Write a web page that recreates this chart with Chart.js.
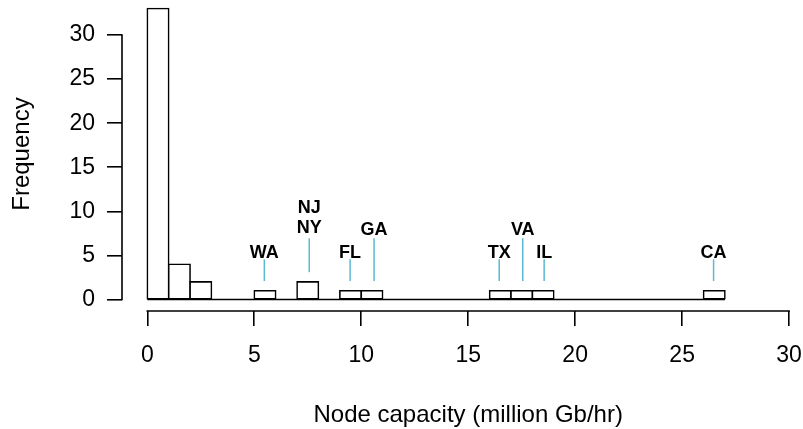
<!DOCTYPE html>
<html>
<head>
<meta charset="utf-8">
<title>Node capacity histogram</title>
<script src="https://cdn.jsdelivr.net/npm/chart.js@4.4.0/dist/chart.umd.min.js"></script>
<style>
  html, body { margin: 0; padding: 0; background: #fff; }
  canvas { display: block; }
</style>
</head>
<body>
<canvas id="myChart" width="803" height="429"></canvas>
<script>
// Histogram bins, one million Gb/hr wide
let binWidth = 1;
let binStarts = [0, 1, 2, 3, 4, 5, 6, 7, 8, 9, 10, 11, 12, 13, 14, 15, 16, 17, 18, 19, 20, 21, 22, 23, 24, 25, 26];
let binCounts = [33, 4, 2, 0, 0, 1, 0, 2, 0, 1, 1, 0, 0, 0, 0, 0, 1, 1, 1, 0, 0, 0, 0, 0, 0, 0, 1];

// Axis ticks and titles
let xTicks = [0, 5, 10, 15, 20, 25, 30];
let yTicks = [0, 5, 10, 15, 20, 25, 30];
let xTitle = 'Node capacity (million Gb/hr)';
let yTitle = 'Frequency';

// States called out above their bars
let stateNames = [['WA'], ['NJ', 'NY'], ['FL'], ['GA'], ['TX'], ['VA'], ['IL'], ['CA']];
let stateCapacity = [5.47, 7.57, 9.48, 10.6, 16.45, 17.55, 18.55, 26.47];
let markerTop = [4.56, 6.94, 4.56, 6.94, 4.56, 6.94, 4.56, 4.56];
let labelBase = [4.67, 7.5, 4.67, 7.32, 4.67, 7.32, 4.67, 4.67];

let fontFamily = "'Liberation Sans', Arial, Helvetica, sans-serif";
Chart.defaults.font.family = fontFamily;
Chart.defaults.color = '#000';

// Axis lines that stop at the end ticks, axis titles, the baseline under
// empty bins, and the state markers
const histExtras = {
    id: 'histExtras',
    beforeDatasetsDraw(chart) {
        let c = chart.ctx, x = chart.scales.x, y = chart.scales.y;
        c.save();
        c.strokeStyle = '#000';
        c.lineWidth = 1.6;
        c.beginPath();
        c.moveTo(x.getPixelForValue(binStarts[0]), y.getPixelForValue(0));
        c.lineTo(x.getPixelForValue(binStarts[binStarts.length - 1] + binWidth), y.getPixelForValue(0));
        c.stroke();
        c.restore();
    },
    afterDraw(chart) {
        let c = chart.ctx, x = chart.scales.x, y = chart.scales.y, area = chart.chartArea;
        c.save();
        c.strokeStyle = '#000';
        c.lineWidth = 1.6;
        c.lineCap = 'square';
        c.beginPath();
        c.moveTo(x.getPixelForValue(xTicks[0]), area.bottom);
        c.lineTo(x.getPixelForValue(xTicks[xTicks.length - 1]), area.bottom);
        c.moveTo(area.left, y.getPixelForValue(yTicks[0]));
        c.lineTo(area.left, y.getPixelForValue(yTicks[yTicks.length - 1]));
        c.stroke();

        // titles, centred on the padded data range
        c.fillStyle = '#000';
        c.font = '24px ' + fontFamily;
        c.textAlign = 'center';
        c.textBaseline = 'alphabetic';
        c.fillText(xTitle, x.getPixelForValue(15), 421.5);
        c.save();
        c.translate(29, y.getPixelForValue(16.5));
        c.rotate(-Math.PI / 2);
        c.fillText(yTitle, 0, 0);
        c.restore();

        c.lineCap = 'butt';
        c.lineWidth = 1.5;
        c.strokeStyle = '#5ab9d4';
        c.font = 'bold 18px ' + fontFamily;
        for (let i = 0; i < stateNames.length; i++) {
            let v = stateCapacity[i];
            let count = binCounts[Math.floor(v / binWidth)];
            let px = x.getPixelForValue(v);
            c.beginPath();
            c.moveTo(px, y.getPixelForValue(count + 1.1));
            c.lineTo(px, y.getPixelForValue(markerTop[i]));
            c.stroke();
            let base = y.getPixelForValue(labelBase[i]);
            let lines = stateNames[i];
            for (let j = 0; j < lines.length; j++) {
                c.fillText(lines[j], px, base - (lines.length - 1 - j) * 20.6);
            }
        }
        c.restore();
    }
};

function noPadding(scale) {
    scale.paddingTop = 0;
    scale.paddingBottom = 0;
    scale.paddingLeft = 0;
    scale.paddingRight = 0;
}

let ctx = document.getElementById('myChart').getContext('2d');
let myChart = new Chart(ctx, {
    type: 'bar',
    data: {
        datasets: [{
            label: 'Frequency',
            data: binStarts.map(function(s, i) { return {x: s + binWidth / 2, y: binCounts[i]}; }),
            backgroundColor: '#fff',
            borderColor: '#000',
            borderWidth: 1.6,
            borderSkipped: false,
            inflateAmount: 0.8,
            barPercentage: 1,
            categoryPercentage: 1
        }]
    },
    plugins: [histExtras],
    options: {
        responsive: false,
        animation: false,
        layout: { padding: 0, autoPadding: false },
        plugins: {
            legend: { display: false },
            tooltip: { enabled: false }
        },
        scales: {
            x: {
                type: 'linear',
                position: 'bottom',
                offset: false,
                min: -1.183,
                max: 30.65,
                border: { display: false },
                grid: { offset: false, drawOnChartArea: false, color: '#000', lineWidth: 1.6, tickLength: 15 },
                ticks: { font: { size: 23 }, padding: 16, maxRotation: 0, autoSkip: false },
                afterBuildTicks: function(scale) { scale.ticks = xTicks.map(function(v) { return {value: v}; }); },
                afterFit: function(scale) { scale.height = 118; noPadding(scale); }
            },
            y: {
                position: 'left',
                min: -1.304,
                max: 33.97,
                border: { display: false },
                grid: { drawOnChartArea: false, color: '#000', lineWidth: 1.6, tickLength: 15 },
                ticks: { font: { size: 23 }, padding: 12, autoSkip: false },
                afterBuildTicks: function(scale) { scale.ticks = yTicks.map(function(v) { return {value: v}; }); },
                afterFit: function(scale) { scale.width = 122; noPadding(scale); }
            }
        }
    }
});
</script>
</body>
</html>
